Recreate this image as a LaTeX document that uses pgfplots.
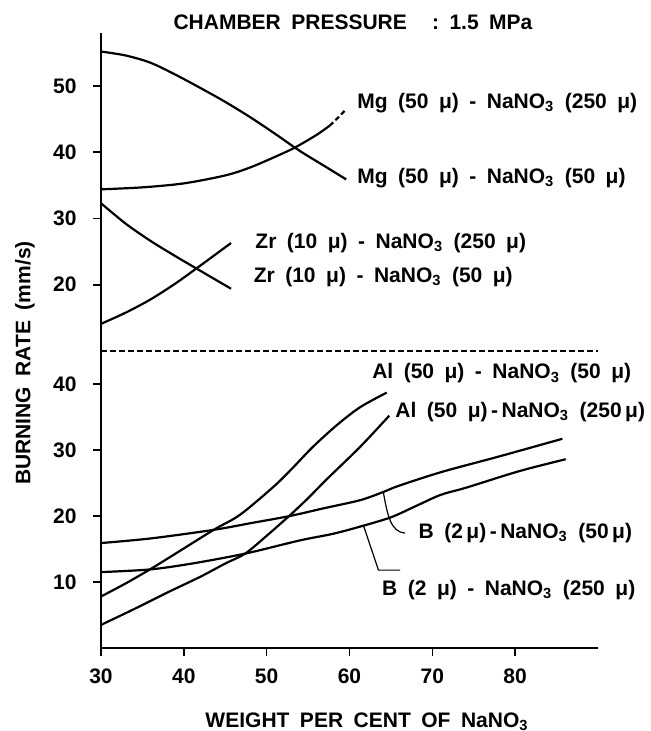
\documentclass[border=0pt]{standalone}
\usepackage{fontspec}
\setmainfont{Liberation Sans}
\usepackage{pgfplots}
\pgfplotsset{compat=1.18}

\newcommand{\ws}{\hspace{0.5em}}
\newcommand{\lbl}{\fontsize{10.5}{12}\selectfont\bfseries}

% shared look of both panels
\pgfplotsset{
  burn/.style={
    scale only axis, anchor=south west, clip=false,
    width=248.5pt, xmin=30, xmax=90,
    axis line style={-, line width=0.8pt},
    tick align=outside, major tick length=4pt,
    tick style={black, line width=0.8pt},
    /pgf/number format/assume math mode=true,
    ticklabel style={font=\lbl},
    yticklabel style={anchor=east, inner sep=0pt, xshift=-8pt},
    xticklabel style={anchor=north, inner sep=0pt, yshift=-6pt},
    cycle list={{black, mark=none}},
    every axis plot/.append style={line width=1.1pt, smooth, tension=0.5},
  },
}
\tikzset{tag/.style={anchor=west, inner sep=0pt, font=\lbl}}

\begin{document}
\begin{tikzpicture}
\path[use as bounding box] (0,0) rectangle (325pt,365.5pt);

% upper panel: Mg and Zr
\begin{axis}[burn,
  at={(50.5pt,190pt)}, height=159pt,
  ymin=10, ymax=58,
  axis x line=none, axis y line*=left,
  ytick={20,30,40,50}, xtick=\empty,
]
% Mg (50) - NaNO3 (50)
\addplot coordinates {(30,55.2) (33,54.6) (36,53.5) (39,51.7) (42,49.7) (45,47.6)
  (48,45.3) (51,42.8) (54,40.2) (57,37.9) (59.6,35.9)};
% Mg (50) - NaNO3 (250), broken at its last stretch as in the print
\addplot coordinates {(30,34.4) (35,34.7) (40,35.3) (45,36.5) (48,37.7) (51,39.3)
  (53.4,40.7) (56,42.6) (57.6,44.0)};
\addplot[dash pattern=on 2.5pt off 1.5pt, smooth=false] coordinates {(57.6,44.0) (58.6,45.2) (59.6,46.5)};
% Zr (10) - NaNO3 (50)
\addplot coordinates {(30,32.3) (33,29.2) (36,26.6) (39,24.3) (42,22.1) (45.7,19.4)};
% Zr (10) - NaNO3 (250)
\addplot coordinates {(30,14.1) (33,15.8) (36,17.8) (39,20.2) (42,22.9) (45.7,26.3)};

\node[tag] at (axis cs:60.9,47.4) {Mg\ws(50\ws μ)\ws-\ws NaNO\textsubscript{3}\ws(250\ws μ)};
\node[tag] at (axis cs:60.9,36.1) {Mg\ws(50\ws μ)\ws-\ws NaNO\textsubscript{3}\ws(50\ws μ)};
\node[tag] at (axis cs:48.6,26.3) {Zr\ws(10\ws μ)\ws-\ws NaNO\textsubscript{3}\ws(250\ws μ)};
\node[tag] at (axis cs:48.4,21.2) {Zr\ws(10\ws μ)\ws-\ws NaNO\textsubscript{3}\ws(50\ws μ)};
\end{axis}

% lower panel: Al and B
\begin{axis}[burn,
  at={(50.5pt,41.5pt)}, height=148.5pt,
  ymin=0, ymax=45,
  axis x line*=bottom, axis y line*=left,
  xtick={30,40,...,80}, ytick={10,20,30,40},
]
% Al (50) - NaNO3 (50)
\addplot coordinates {(30,7.8) (33,9.8) (35.9,11.9) (39,14.3) (43.6,17.9) (46.8,20.2)
  (50.8,24.4) (53,27.1) (55.6,30.5) (58.5,33.8) (61.3,36.5) (64.5,38.7)};
% Al (50) - NaNO3 (250)
\addplot coordinates {(30,3.5) (34,5.9) (38,8.4) (42,10.8) (45,12.8) (47.4,14.3)
  (50,17.0) (52.8,20.1) (55,22.7) (57.2,25.5) (61.3,30.5) (64.8,35.2)};
% B (2) - NaNO3 (50)
\addplot coordinates {(30,15.9) (36,16.6) (43.6,17.9) (48,18.9) (52.8,20.0) (57,21.2)
  (61.3,22.4) (64,23.6) (66,24.6) (71.2,26.7) (78,29.0) (85.7,31.7)};
% B (2) - NaNO3 (250)
\addplot coordinates {(30,11.5) (35.9,11.9) (41,12.8) (47.4,14.3) (54,16.3) (58,17.3)
  (61.3,18.4) (65,19.8) (68,21.5) (71,23.2) (74.1,24.3) (80.5,26.8) (86.1,28.6)};

% panel separator
\draw[line width=0.6pt, dash pattern=on 3pt off 1.5pt] (axis cs:30,45) -- (axis cs:90,45);
% pointers
\draw[line width=0.6pt] (axis cs:64.1,23.5) .. controls (axis cs:64.6,20) and (axis cs:65,17.6) .. (axis cs:66.7,17.4);
\draw[line width=0.6pt] (axis cs:61.7,18.5) -- (axis cs:63.5,11.8) -- (axis cs:66.1,11.8);

\node[tag] at (axis cs:62.7,41.6) {Al\ws(50\ws μ)\ws-\ws NaNO\textsubscript{3}\ws(50\ws μ)};
\node[tag] at (axis cs:65.5,35.8) {Al\ws(50\ws μ)\,-\,NaNO\textsubscript{3}\ws(250\,μ)};
\node[tag] at (axis cs:68.3,17.4) {B\ws(2\,μ)\,-\,NaNO\textsubscript{3}\ws(50\,μ)};
\node[tag] at (axis cs:63.9,8.8) {B\ws(2\ws μ)\ws-\ws NaNO\textsubscript{3}\ws(250\ws μ)};
\end{axis}

\node[font=\lbl] at (176.5pt,354.5pt) {CHAMBER\ws PRESSURE\hspace{1.2em}:\ws 1.5\ws MPa};
\node[font=\lbl, rotate=90] at (12.5pt,184pt) {BURNING\ws RATE\ws (mm/s)};
\node[font=\lbl] at (183.5pt,4.5pt) {WEIGHT\ws PER\ws CENT\ws OF\ws NaNO\textsubscript{3}};
\end{tikzpicture}
\end{document}
